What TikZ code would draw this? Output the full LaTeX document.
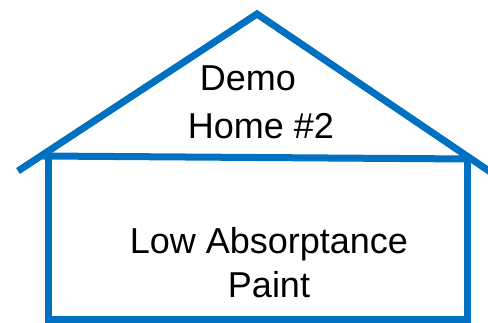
\documentclass[tikz,border=0pt]{standalone}
\usepackage{fontspec}
\setmainfont{Liberation Sans}
\usepackage{xcolor}
\usepackage{tikz}
\definecolor{housecol}{HTML}{0070C0}

\begin{document}
\begin{tikzpicture}[x=1pt, y=-1pt,
    wall/.style={housecol, line width=7pt},
    label/.style={anchor=base, inner sep=0pt, font=\fontsize{36}{44}\selectfont}]
  \useasboundingbox (0,0) rectangle (488,322);
  \draw[wall, line join=miter] (18,171) -- (257,14) -- (492,173);
  \draw[wall] (43,156) -- (471,159);
  \draw[wall] (48,156) -- (48,324);
  \draw[wall] (467,159) -- (467,324);
  \draw[wall] (45,319) -- (471,319);
  \node[label] (demo) at (248,90) {Demo};
  \node[label] (home) at (261,138) {Home \#2};
  \node[label] (low) at (269,253) {Low Absorptance};
  \node[label] (paint) at (269,297) {Paint};
\end{tikzpicture}
\end{document}
